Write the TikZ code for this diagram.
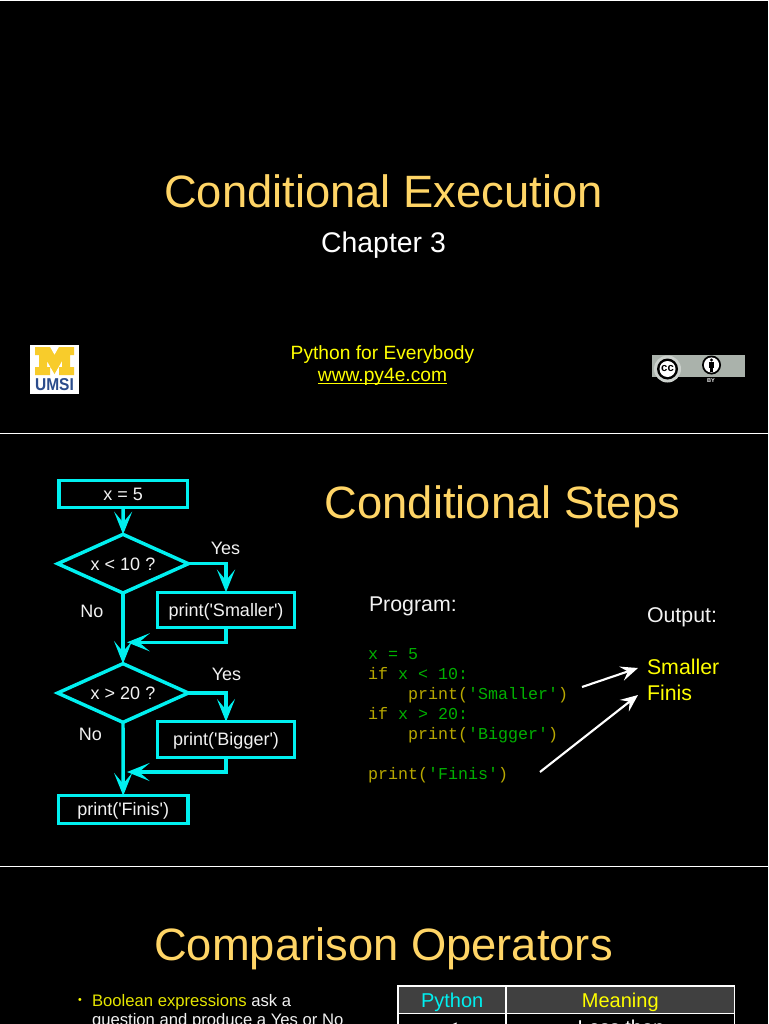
\documentclass[tikz,border=0pt]{standalone}
\usepackage{fontspec}
\usetikzlibrary{shapes.geometric,arrows.meta,calc}
\newfontfamily\ars{Liberation Sans}
\newfontfamily\monof{Liberation Mono}
\definecolor{titlecol}{HTML}{FFD566}
\definecolor{flow}{HTML}{00F0F0}
\definecolor{txt}{HTML}{F2F2F2}
\definecolor{kw}{HTML}{B8A800}
\definecolor{cod}{HTML}{00B000}
\definecolor{ylw}{HTML}{FFFF00}
\definecolor{hdr}{HTML}{404040}
\definecolor{mblue}{HTML}{2B4C8C}
\definecolor{myel}{HTML}{F8CC2B}
\definecolor{ccg}{HTML}{AAB2AB}
\newcommand{\fs}[1]{\fontsize{#1}{#1}\selectfont}
\newcommand{\kw}[1]{\textcolor{kw}{#1}}
\newcommand{\cd}[1]{\textcolor{cod}{#1}}
\tikzset{
 txtnode/.style={inner sep=0pt,outer sep=0pt,anchor=base,font=\ars\fs{13.5},text=txt},
 titlenode/.style={txtnode,font=\ars\fs{34},text=titlecol},
 outnode/.style={txtnode,anchor=base west,font=\ars\fs{16}},
 codenode/.style={inner sep=0pt,outer sep=0pt,anchor=base west,font=\monof\fs{12.5}},
 procbox/.style={draw=flow,line width=2.6pt,inner sep=0pt,outer sep=0pt,font=\ars\fs{13.5},text=txt,text height=9.5pt,text depth=0pt},
 decbox/.style={diamond,draw=flow,line width=2.6pt,inner sep=0pt,outer sep=0pt,aspect=2.2,font=\ars\fs{13.5},text=txt,minimum width=98pt,minimum height=44pt,text height=9.5pt,text depth=0pt},
 flowline/.style={draw=flow,line width=2.6pt,-{Stealth[length=17pt,width=13.5pt,inset=8pt]}},
 outarrow/.style={draw=white,line width=1.6pt,-{Stealth[length=13pt,width=11pt,inset=5pt]}},
 rule/.style={draw=white,line width=0.9pt},
 tabcell/.style={draw=white,line width=1.1pt},
 tabhead/.style={tabcell,fill=hdr,minimum height=20.6pt,inner sep=0pt,outer sep=0pt,font=\ars\fs{15},text height=11pt,text depth=0pt}
}
\begin{document}
\begin{tikzpicture}[x=0.75pt,y=-0.75pt]
\useasboundingbox (0,0) rectangle (768,1024);
\clip (0,0) rectangle (768,1024);
\fill[black] (0,0) rectangle (768,1024);
% slide separators
\draw[rule] (0,0.5) -- (768,0.5);
\draw[rule] (0,433.5) -- (768,433.5);
\draw[rule] (0,866.5) -- (768,866.5);
% slide 1
\node[titlenode] (t1) at (383.5,207) {Conditional Execution};
\node[txtnode,font=\ars\fs{21.3},text=white] (ch) at (383.5,252) {Chapter 3};
\node[txtnode,font=\ars\fs{14.4},text=ylw] (pfe) at (382.5,359) {Python for Everybody};
\node[txtnode,font=\ars\fs{14.4},text=ylw] (www) at (382.5,381) {www.py4e.com};
\draw[ylw,line width=1.1pt] ([yshift=-1.8pt]www.base west) -- ([yshift=-1.8pt]www.base east);
% UMSI logo
\fill[white] (30,345) rectangle (79,394);
\fill[myel] (35,347) -- (50,347) -- (54.5,355) -- (59,347) -- (74,347) -- (74,355) -- (70,355) -- (70,367) -- (74,367) -- (74,375) -- (59,375) -- (59,367) -- (62,367) -- (62,361) -- (54.5,374) -- (47,361) -- (47,367) -- (50,367) -- (50,375) -- (35,375) -- (35,367) -- (39,367) -- (39,355) -- (35,355) -- cycle;
\node[inner sep=0pt,anchor=base,text=mblue,font=\ars\bfseries\fs{12.5}] (umsi) at (54.5,390.5) {\scalebox{0.93}[1.03]{UMSI}};
% CC badge
\fill[ccg] (652.3,354.5) rectangle (745,377);
\fill[black] (652,377) rectangle (681,385);
\fill[ccg!60!white] (667.5,369) circle (13.5);
\fill[black] (667.5,369) circle (10.5);
\fill[white] (667.5,369) circle (8);
\node[inner sep=0pt,text=black,font=\ars\bfseries\fs{8.5}] (cc) at (667.5,368.5) {cc};
\fill[black] (711.5,365) circle (9.5);
\fill[white] (711.5,365) circle (7.6);
\fill[black] (711.5,360) circle (1.6);
\fill[black] (709,362.2) rectangle (714,367.5);
\fill[black] (710,367.5) rectangle (713,371.5);
\node[inner sep=0pt,text=txt,font=\ars\bfseries\fs{4.2}] (by) at (711,381) {BY};
% slide 2
\node[titlenode] (t2) at (502.5,518) {Conditional Steps};
\node[procbox,minimum width=96.4pt,minimum height=19.9pt] (a) at (123.2,494) {x = 5};
\node[decbox] (d1) at (123,563.7) {x < 10 ?};
\node[procbox,minimum width=102.8pt,minimum height=26.2pt] (p1) at (226,609.8) {print('Smaller')};
\node[decbox] (d2) at (123,693) {x > 20 ?};
\node[procbox,minimum width=102.8pt,minimum height=26.7pt] (p2) at (226,739.5) {print('Bigger')};
\node[procbox,minimum width=97.1pt,minimum height=20.7pt] (f) at (123.2,809.5) {print('Finis')};
\coordinate (m1) at (127,642.3);
\coordinate (m2) at (127,772);
\draw[flowline] (a) -- (d1);
\draw[flowline] (d1.east) -| (p1.north);
\draw[flowline] (d1.south) -- (d2.north);
\draw[flowline] (p1.south) |- (m1);
\draw[flowline] (d2.east) -| (p2.north);
\draw[flowline] (d2.south) -- (f.north);
\draw[flowline] (p2.south) |- (m2);
\node[txtnode] (y1) at (225.5,554) {Yes};
\node[txtnode] (n1) at (92,617) {No};
\node[txtnode] (y2) at (226.5,680) {Yes};
\node[txtnode] (n2) at (90.5,740) {No};
\node[outnode] (prog) at (369,611) {Program:};
\node[outnode] (outp) at (647,622) {Output:};
\node[outnode,text=ylw] (sm) at (647,674) {Smaller};
\node[outnode,text=ylw] (fi) at (647,700) {Finis};
\node[codenode] (c1) at (368,659) {\cd{x = 5}};
\node[codenode] (c2) at (368,679) {\kw{if}\ \cd{x < 10:}};
\node[codenode] (c3) at (408,699) {\kw{print(}\cd{'Smaller'}\kw{)}};
\node[codenode] (c4) at (368,719) {\kw{if}\ \cd{x > 20:}};
\node[codenode] (c5) at (408,739) {\kw{print(}\cd{'Bigger'}\kw{)}};
\node[codenode] (c6) at (368,779) {\kw{print(}\cd{'Finis'}\kw{)}};
\coordinate (s1) at (582,687);
\coordinate (e1) at (638,668);
\coordinate (s2) at (540,772);
\coordinate (e2) at (638,695);
\draw[outarrow] (s1) -- (e1);
\draw[outarrow] (s2) -- (e2);
% slide 3
\node[titlenode] (t3) at (383.5,960) {Comparison Operators};
\node[inner sep=0pt,text=ylw,font=\ars\fs{8}] (bul) at (80,1001) {•};
\node[txtnode,anchor=base west,font=\ars\fs{12.5}] (b1) at (92,1006) {\textcolor{ylw!90!black}{Boolean expressions} ask a};
\node[txtnode,anchor=base west,font=\ars\fs{12.5}] (b2) at (92,1025) {question and produce a Yes or No};
\node[tabhead,minimum width=81pt,text=flow] (th1) at (452.2,999.7) {Python};
\node[tabhead,minimum width=171pt,text=ylw] (th2) at (620.3,999.7) {Meaning};
\draw[tabcell] (398.2,1013.5) rectangle (506.2,1040);
\draw[tabcell] (506.2,1013.5) rectangle (734.3,1040);
\node[txtnode,font=\ars\fs{15},text=white] (c11) at (452,1034) {<};
\node[txtnode,font=\ars\fs{15},text=white] (c12) at (621,1034) {Less than};
\end{tikzpicture}
\end{document}
